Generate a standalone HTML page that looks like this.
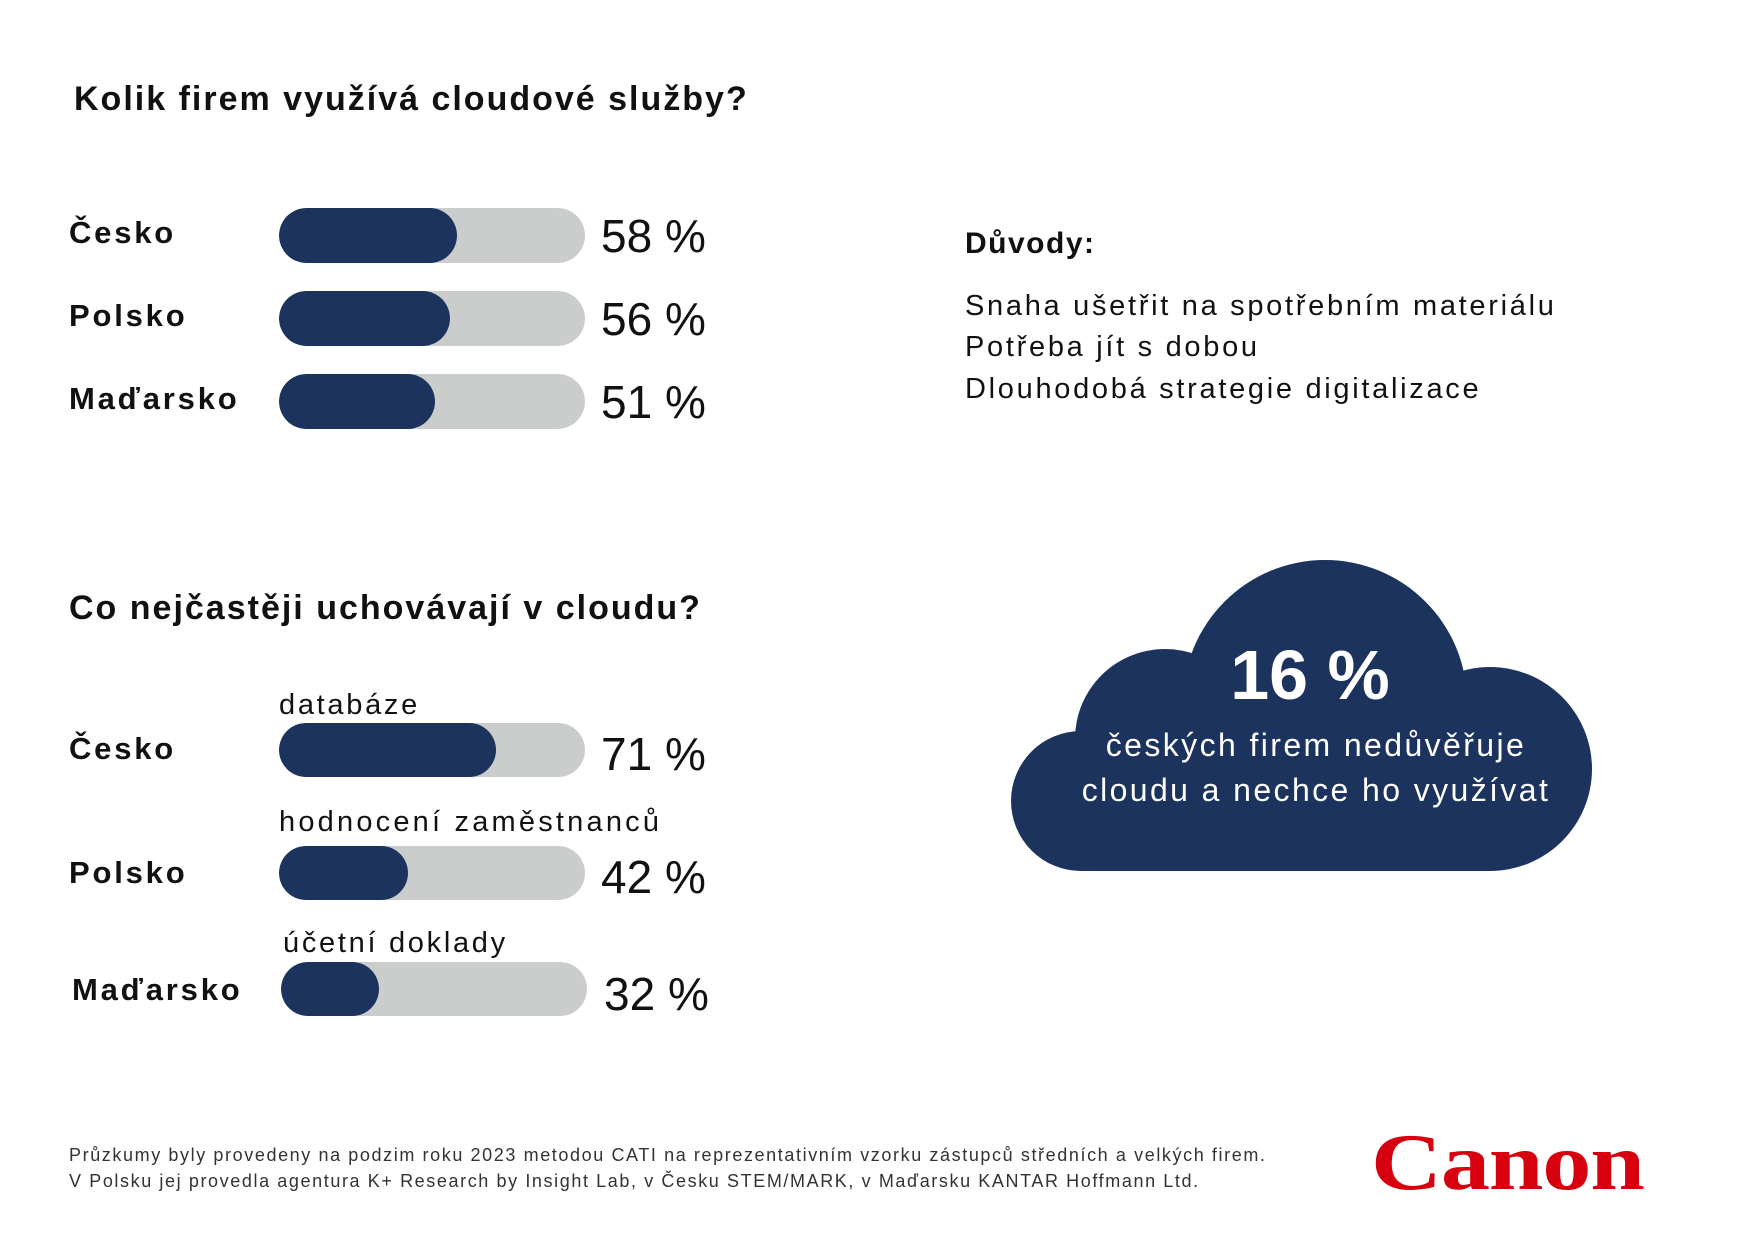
<!DOCTYPE html>
<html><head><meta charset="utf-8"><style>
body{margin:0;width:1748px;height:1240px;background:#fff;position:relative;overflow:hidden;font-family:"Liberation Sans",sans-serif;color:#111}
.a{position:absolute;white-space:nowrap;line-height:1}
.b{font-weight:bold}
.bar{position:absolute;background:#cbcccc;border-radius:28px;overflow:hidden}
.bar div{height:100%;background:#1c335e;border-radius:28px}
.pct{position:absolute;font-size:46px;font-weight:300;line-height:1}
.lab{font-size:31px;font-weight:bold;letter-spacing:2.8px}
.sm{font-size:29px;letter-spacing:2.7px}
</style></head><body>
<div class="a b" style="left:74px;top:82px;font-size:34px;letter-spacing:2px">Kolik firem využívá cloudové služby?</div>

<div class="a lab" style="left:69px;top:217px">Česko</div>
<div class="bar" style="left:279px;top:208px;width:306px;height:55px"><div style="width:178px"></div></div>
<div class="pct" style="left:601px;top:213px">58 %</div>

<div class="a lab" style="left:69px;top:300px">Polsko</div>
<div class="bar" style="left:279px;top:291px;width:306px;height:55px"><div style="width:171px"></div></div>
<div class="pct" style="left:601px;top:296px">56 %</div>

<div class="a lab" style="left:69px;top:383px">Maďarsko</div>
<div class="bar" style="left:279px;top:374px;width:306px;height:55px"><div style="width:156px"></div></div>
<div class="pct" style="left:601px;top:379px">51 %</div>

<div class="a b" style="left:965px;top:229px;font-size:30px;letter-spacing:1.5px">Důvody:</div>
<div class="a sm" style="left:965px;top:292px">Snaha ušetřit na spotřebním materiálu</div>
<div class="a sm" style="left:965px;top:333px">Potřeba jít s dobou</div>
<div class="a sm" style="left:965px;top:375px">Dlouhodobá strategie digitalizace</div>

<div class="a b" style="left:69px;top:591px;font-size:34px;letter-spacing:2px">Co nejčastěji uchovávají v cloudu?</div>

<div class="a sm" style="left:279px;top:691px">databáze</div>
<div class="a lab" style="left:69px;top:733px">Česko</div>
<div class="bar" style="left:279px;top:723px;width:306px;height:54px"><div style="width:217px"></div></div>
<div class="pct" style="left:601px;top:731px">71 %</div>

<div class="a sm" style="left:279px;top:808px;letter-spacing:3.2px">hodnocení zaměstnanců</div>
<div class="a lab" style="left:69px;top:857px">Polsko</div>
<div class="bar" style="left:279px;top:846px;width:306px;height:54px"><div style="width:129px"></div></div>
<div class="pct" style="left:601px;top:854px">42 %</div>

<div class="a sm" style="left:283px;top:929px">účetní doklady</div>
<div class="a lab" style="left:72px;top:974px">Maďarsko</div>
<div class="bar" style="left:281px;top:962px;width:306px;height:54px"><div style="width:98px"></div></div>
<div class="pct" style="left:604px;top:971px">32 %</div>

<svg class="a" style="left:0;top:0" width="1748" height="1240">
<g fill="#1c335e">
<circle cx="1325" cy="702" r="142"/>
<circle cx="1165" cy="739" r="90"/>
<circle cx="1081" cy="801" r="70"/>
<circle cx="1490" cy="769" r="102"/>
<rect x="1081" y="740" width="410" height="131"/>
<rect x="1165" y="700" width="330" height="100"/>
</g>
</svg>
<div class="a b" style="left:1110px;top:640px;width:400px;text-align:center;font-size:70px;color:#fff">16 %</div>
<div class="a" style="left:1016px;top:729px;width:600px;text-align:center;font-size:32px;color:#fff;letter-spacing:2.4px">českých firem nedůvěřuje</div>
<div class="a" style="left:1016px;top:774px;width:600px;text-align:center;font-size:32px;color:#fff;letter-spacing:2.4px">cloudu a nechce ho využívat</div>

<div class="a" style="left:69px;top:1146px;font-size:18px;color:#333;letter-spacing:1.6px">Průzkumy byly provedeny na podzim roku 2023 metodou CATI na reprezentativním vzorku zástupců středních a velkých firem.</div>
<div class="a" style="left:69px;top:1172px;font-size:18px;color:#333;letter-spacing:1.6px">V Polsku jej provedla agentura K+ Research by Insight Lab, v Česku STEM/MARK, v Maďarsku KANTAR Hoffmann Ltd.</div>

<div class="a" style="left:1371px;top:1123px;font-family:'Liberation Serif',serif;font-weight:bold;font-size:80px;color:#d7000f;transform:scaleX(1.23);transform-origin:left top;letter-spacing:-1px">Canon</div>
</body></html>
